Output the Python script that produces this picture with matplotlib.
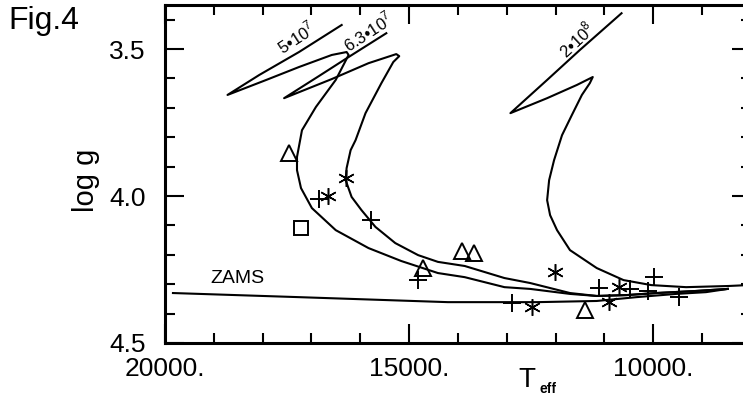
import matplotlib
matplotlib.use("Agg")
import matplotlib.pyplot as plt
from matplotlib.ticker import MultipleLocator

plt.rcParams["font.family"] = ["Liberation Sans", "DejaVu Sans"]
plt.rcParams["mathtext.fontset"] = "custom"
plt.rcParams["mathtext.rm"] = "Liberation Sans"

# isochrones: (Teff, log g), running from the low-mass end up to the hook and tip
iso_5e7_teff = [8476, 9126, 9939, 10549, 11159, 11707, 12521, 13049, 13862, 14411,
                15163, 15833, 16504, 16992, 17215, 17297, 17297, 17195, 16910, 16504,
                16240, 16281, 16585, 17256, 17927, 18720, 18069, 17256, 16382]
iso_5e7_logg = [4.316, 4.323, 4.330, 4.337, 4.340, 4.333, 4.316, 4.310, 4.276, 4.262,
                4.221, 4.177, 4.116, 4.041, 3.973, 3.912, 3.867, 3.776, 3.697, 3.605,
                3.520, 3.510, 3.520, 3.561, 3.605, 3.656, 3.588, 3.510, 3.418]

iso_63e7_teff = [8476, 9126, 9939, 10549, 11159, 11707, 12521, 13049, 13862, 14411,
                 14817, 15285, 15691, 15976, 16179, 16301, 16281, 16199, 16098, 15894,
                 15569, 15325, 15203, 15264, 15833, 16585, 17561, 16850, 16240, 15468]
iso_63e7_logg = [4.316, 4.323, 4.330, 4.337, 4.340, 4.330, 4.296, 4.279, 4.238, 4.224,
                 4.201, 4.160, 4.105, 4.048, 4.003, 3.946, 3.905, 3.844, 3.810, 3.718,
                 3.616, 3.544, 3.524, 3.517, 3.548, 3.602, 3.667, 3.592, 3.527, 3.446]

iso_2e8_teff = [8069, 8456, 9329, 10042, 10610, 11159, 11707, 11972, 12114, 12175,
                12134, 12033, 11870, 11667, 11463, 11301, 11240, 11565, 12175, 12927,
                12175, 11504, 10651]
iso_2e8_logg = [4.303, 4.306, 4.310, 4.303, 4.286, 4.245, 4.184, 4.116, 4.065, 4.014,
                3.946, 3.878, 3.793, 3.724, 3.656, 3.616, 3.595, 3.622, 3.667, 3.718,
                3.605, 3.503, 3.378]

zams_teff = [19837, 17256, 14207, 12378, 11159, 10346, 9533, 8923, 8476]
zams_logg = [4.330, 4.344, 4.361, 4.361, 4.357, 4.344, 4.333, 4.327, 4.316]

# stars
tri_teff = [17460, 14720, 13920, 13680, 11400]
tri_logg = [3.854, 4.245, 4.187, 4.194, 4.388]

sq_teff = [17215]
sq_logg = [4.109]

plus_teff = [16850, 15772, 14817, 12886, 11118, 10468, 10102, 9990, 9472]
plus_logg = [4.010, 4.082, 4.286, 4.364, 4.313, 4.316, 4.323, 4.276, 4.344]

ast_teff = [16667, 16301, 12480, 12012, 10915, 10711]
ast_logg = [4.000, 3.939, 4.378, 4.259, 4.361, 4.310]

xticks = [20000, 15000, 10000]
xtick_labels = ["20000.", "15000.", "10000."]
yticks = [3.5, 4.0, 4.5]
ytick_labels = ["3.5", "4.0", "4.5"]

fig = plt.figure(figsize=(7.43, 3.96), dpi=100)
ax = fig.add_axes([165 / 743, 53 / 396, 586 / 743, 338 / 396])

lw = 1.5
ax.plot(iso_5e7_teff, iso_5e7_logg, color="black", lw=lw)
ax.plot(iso_63e7_teff, iso_63e7_logg, color="black", lw=lw)
ax.plot(iso_2e8_teff, iso_2e8_logg, color="black", lw=lw)
ax.plot(zams_teff, zams_logg, color="black", lw=lw)

mk = dict(linestyle="none", color="black", markerfacecolor="none")
ax.plot(tri_teff, tri_logg, marker="^", markersize=11, markeredgewidth=1.4, **mk)
ax.plot(sq_teff, sq_logg, marker="s", markersize=10, markeredgewidth=1.4, **mk)
ax.plot(plus_teff, plus_logg, marker="+", markersize=13, markeredgewidth=1.4, **mk)
ax.plot(ast_teff, ast_logg, marker=(6, 2, 0), markersize=12, markeredgewidth=1.1, **mk)

# isochrone ages written along their upper branches
ax.text(17317, 3.459, "5\u202210$^7$", fontsize=12, rotation=33,
        ha="center", va="center", rotation_mode="anchor")
ax.text(15854, 3.440, "6.3\u202210$^7$", fontsize=12, rotation=33,
        ha="center", va="center", rotation_mode="anchor")
ax.text(11565, 3.469, "2\u202210$^8$", fontsize=12, rotation=43,
        ha="center", va="center", rotation_mode="anchor")
ax.text(18516, 4.282, "ZAMS", fontsize=14, ha="center", va="center")

ax.set_xlim(20000, 8000)
ax.set_ylim(4.5, 3.35)
ax.set_xticks(xticks)
ax.set_xticklabels(xtick_labels)
ax.set_yticks(yticks)
ax.set_yticklabels(ytick_labels)
ax.xaxis.set_minor_locator(MultipleLocator(1000))
ax.yaxis.set_minor_locator(MultipleLocator(0.1))
ax.tick_params(which="both", direction="in", top=True, right=True, width=1.5,
               labelsize=19)
ax.tick_params(which="major", length=13.5)
ax.tick_params(which="minor", length=7)
ax.tick_params(axis="y", pad=14)
ax.tick_params(axis="x", pad=10)
for s in ax.spines.values():
    s.set_linewidth(2.2)

fig.text(8 / 743, 1 - 29 / 396, "Fig.4", fontsize=23, ha="left", va="baseline")
fig.text(86 / 743, 1 - 180 / 396, "log g", fontsize=21, rotation=90,
         ha="center", va="center")
fig.text(527 / 743, 1 - 380 / 396, "T", fontsize=20, ha="center", va="center")
fig.text(548 / 743, 1 - 389 / 396, "eff", fontsize=10, fontweight="bold",
         ha="center", va="center")

fig.savefig("out.png", dpi=100)
